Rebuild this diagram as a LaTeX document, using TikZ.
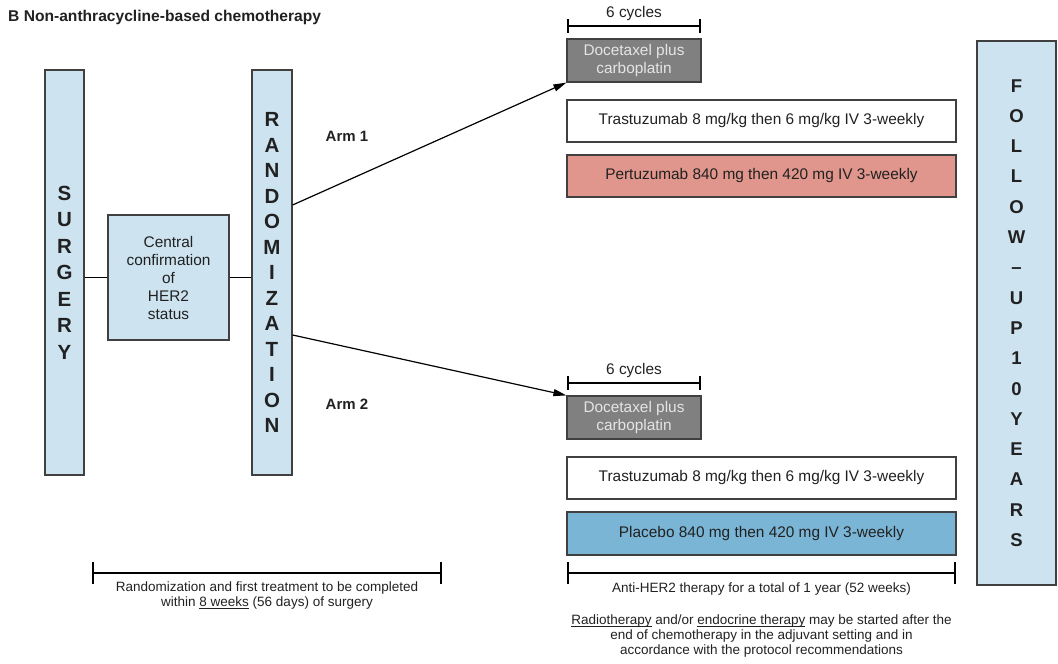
\documentclass[tikz,border=0pt]{standalone}
\usepackage{fontspec}
\setmainfont{Liberation Sans}
\usetikzlibrary{arrows.meta}

\definecolor{boxblue}{rgb}{0.804,0.890,0.941}
\definecolor{pertred}{rgb}{0.878,0.588,0.549}
\definecolor{placblue}{rgb}{0.478,0.710,0.839}
\definecolor{docgray}{rgb}{0.502,0.502,0.502}
\definecolor{doctext}{rgb}{0.900,0.900,0.900}
\definecolor{edgegray}{rgb}{0.250,0.250,0.250}
\definecolor{inkcolor}{rgb}{0.130,0.130,0.130}
\newcommand{\lowline}[1]{\underline{\smash{#1}}}

\begin{document}
\begin{tikzpicture}[x=1pt,y=-1pt,
  blockbox/.style={draw=edgegray, line width=1.2pt, inner sep=0pt, align=center,
    text=inkcolor, font=\fontsize{15.4}{18}\selectfont},
  tallbox/.style={blockbox, fill=boxblue},
  wordbox/.style={blockbox, minimum width=389pt, minimum height=42pt},
  docbox/.style={blockbox, fill=docgray, text=doctext, minimum width=134pt, minimum height=43pt},
  notetext/.style={inner sep=0pt, align=center, text=inkcolor, font=\fontsize{13.5}{15}\selectfont},
  spanbar/.style={{Bar[width=22pt]}-{Bar[width=22pt]}, line width=2pt},
  cyclebar/.style={{Bar[width=14pt]}-{Bar[width=14pt]}, line width=1.8pt},
  link/.style={line width=1.6pt},
  armline/.style={-{Triangle[length=13pt,width=7pt]}, line width=1.2pt}]
\useasboundingbox (0,0) rectangle (1058,664);

% title
\node[anchor=west, inner sep=0pt, text=inkcolor, font=\bfseries\fontsize{15.6}{18}\selectfont]
  (title) at (8,17) {B Non-anthracycline-based chemotherapy};

% left column
\node[tallbox, minimum width=39pt, minimum height=405pt,
  font=\bfseries\fontsize{20.5}{26.5}\selectfont] (surgery) at (64.5,272.5)
  {S\\U\\R\\G\\E\\R\\Y};
\node[tallbox, minimum width=121pt, minimum height=125pt] (central) at (168.5,277.5)
  {Central\\confirmation\\of\\HER2\\status};
\node[tallbox, minimum width=40pt, minimum height=405pt,
  font=\bfseries\fontsize{20.5}{25.5}\selectfont] (rand) at (272,272.5)
  {R\\A\\N\\D\\O\\M\\I\\Z\\A\\T\\I\\O\\N};
\draw[link] (surgery.east |- central.west) -- (central.west);
\draw[link] (central.east) -- (rand.west |- central.east);

% arm 1
\node[docbox] (doc1) at (634,60.5) {Docetaxel plus\\carboplatin};
\node[wordbox, fill=white] (tras1) at (761.5,121) {Trastuzumab 8 mg/kg then 6 mg/kg IV 3-weekly};
\node[wordbox, fill=pertred] (pert) at (761.5,176) {Pertuzumab 840 mg then 420 mg IV 3-weekly};
\coordinate (cyc1l) at (567,26);
\coordinate (cyc1r) at (701,26);
\draw[cyclebar] (cyc1l) -- (cyc1r);
\node[notetext, font=\fontsize{15.4}{18}\selectfont] (cyc1) at (634,14) {6 cycles};

% arm 2
\node[docbox] (doc2) at (634,417.5) {Docetaxel plus\\carboplatin};
\node[wordbox, fill=white] (tras2) at (761.5,478) {Trastuzumab 8 mg/kg then 6 mg/kg IV 3-weekly};
\node[wordbox, fill=placblue, minimum height=43pt] (plac) at (761.5,533.5) {Placebo 840 mg then 420 mg IV 3-weekly};
\coordinate (cyc2l) at (567,383);
\coordinate (cyc2r) at (701,383);
\draw[cyclebar] (cyc2l) -- (cyc2r);
\node[notetext, font=\fontsize{15.4}{18}\selectfont] (cyc2) at (634,371) {6 cycles};

% arms
\draw[armline] ([yshift=67.5pt]rand.east) -- (doc1.south west);
\draw[armline] ([yshift=-62.5pt]rand.east) -- (doc2.north west);
\node[inner sep=0pt, text=inkcolor, font=\bfseries\fontsize{15}{18}\selectfont] (arm1) at (347,136) {Arm 1};
\node[inner sep=0pt, text=inkcolor, font=\bfseries\fontsize{15}{18}\selectfont] (arm2) at (347,404) {Arm 2};

% follow-up
\node[tallbox, minimum width=79pt, minimum height=544pt,
  font=\bfseries\fontsize{18.5}{30.3}\selectfont] (follow) at (1016.5,313)
  {F\\O\\L\\L\\O\\W\\--\\U\\P\\1\\0\\Y\\E\\A\\R\\S};

% time spans
\coordinate (spanal) at (92,573);
\coordinate (spanar) at (442,573);
\draw[spanbar] (spanal) -- (spanar);
\node[notetext] (spana) at (267,596)
  {Randomization and first treatment to be completed\\within \lowline{8 weeks} (56 days) of surgery};
\coordinate (spanbl) at (567,573);
\coordinate (spanbr) at (956,573);
\draw[spanbar] (spanbl) -- (spanbr);
\node[notetext] (spanb) at (761.5,589) {Anti-HER2 therapy for a total of 1 year (52 weeks)};
\node[notetext] (radio) at (761.5,636)
  {\lowline{Radiotherapy} and/or \lowline{endocrine therapy} may be started after the\\
   end of chemotherapy in the adjuvant setting and in\\
   accordance with the protocol recommendations};
\end{tikzpicture}
\end{document}
